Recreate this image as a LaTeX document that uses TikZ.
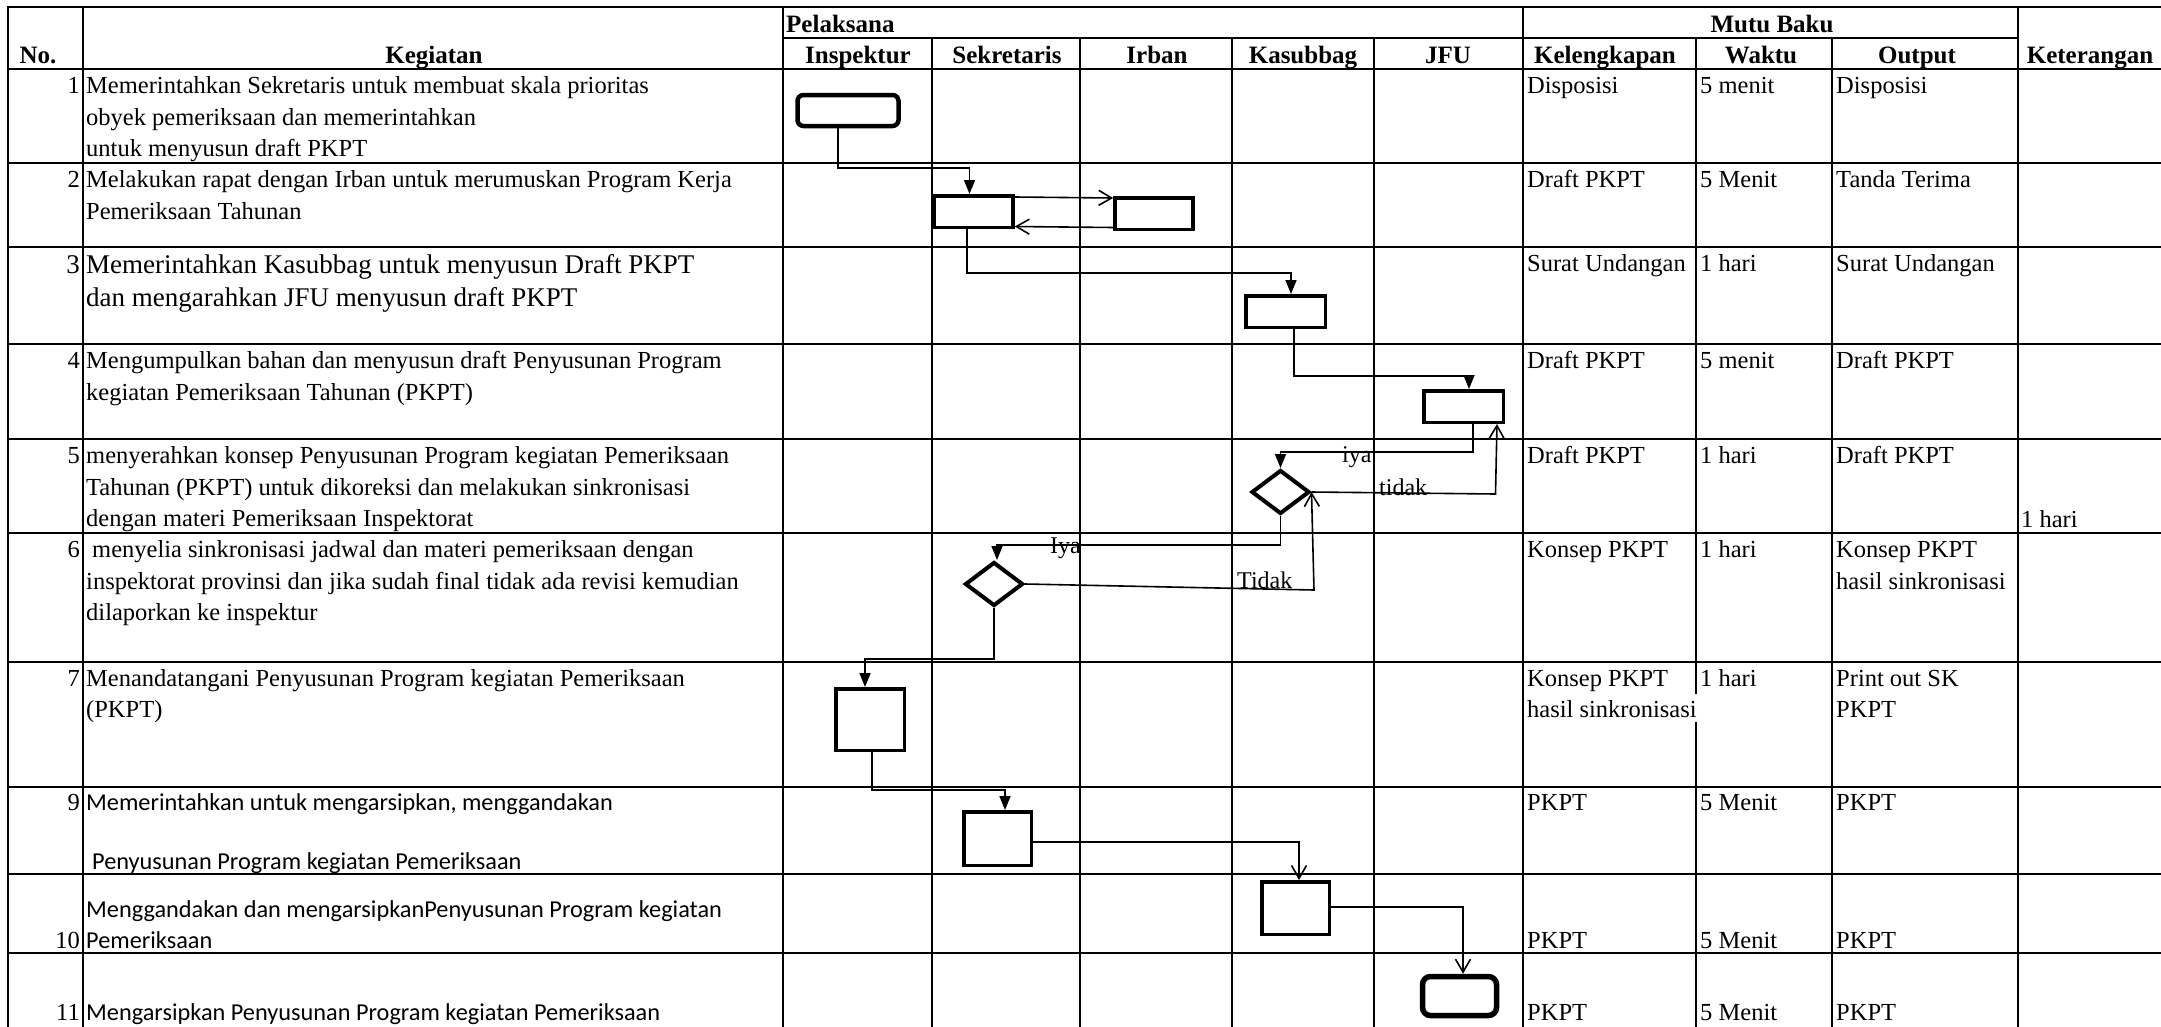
\documentclass[tikz,border=0pt]{standalone}
\usepackage{fontspec}
\setmainfont{Liberation Serif}
\newfontfamily\calib{Carlito}
\usetikzlibrary{arrows.meta,shapes.geometric}
\begin{document}
\begin{tikzpicture}[x=1pt,y=-1pt,
  grid/.style={line width=2.5pt, line cap=rect},
  bx/.style={draw, line width=3.5pt, inner sep=0pt},
  dia/.style={draw, diamond, line width=4pt, inner sep=0pt, minimum width=58pt, minimum height=44pt},
  conn/.style={line width=1.6pt},
  farr/.style={conn, -{Triangle[length=14pt,width=11pt]}},
  oarr/.style={conn, -{Straight Barb[length=13pt,width=15pt]}},
  tx/.style={inner sep=0pt, anchor=north west, align=left, font=\fontsize{24.5}{31.5}\selectfont},
  big/.style={font=\fontsize{27}{33}\selectfont},
  ln/.style={inner sep=0pt, anchor=base west, font=\fontsize{24.5}{31.5}\selectfont},
  num/.style={inner sep=0pt, anchor=base east, font=\fontsize{24.5}{31.5}\selectfont},
  hd/.style={inner sep=0pt, anchor=base, font=\fontsize{25}{28}\selectfont\bfseries},
  cb/.style={tx, font=\calib\fontsize{24.3}{29.5}\selectfont},
  cbl/.style={ln, font=\calib\fontsize{24.3}{29.5}\selectfont},
  lb/.style={inner sep=0pt, anchor=base west, font=\fontsize{24}{28}\selectfont}]
\fill[white] (0,0) rectangle (2161,1026);
\useasboundingbox (0,0) rectangle (2161,1026);
% grid
\foreach \yy in {7,69,163,247,344,439,533,662,787,874,953} \draw[grid] (8,\yy) -- (2161,\yy);
\draw[grid] (783,38) -- (2018,38);
\foreach \xx in {8,83,783,1523,2018} \draw[grid] (\xx,7) -- (\xx,1026);
\foreach \xx in {932,1080,1232,1374,1832} \draw[grid] (\xx,38) -- (\xx,1026);
\draw[grid] (1696,38) -- (1696,693) (1696,723) -- (1696,1026);
% headers
\node[hd] (hno) at (38,63) {No.};
\node[hd] (hkeg) at (434,63) {Kegiatan};
\node[hd,anchor=base west] (hpel) at (786,32) {Pelaksana};
\node[hd] (hmutu) at (1772,32) {Mutu Baku};
\node[hd] (hins) at (858,63) {Inspektur};
\node[hd] (hsek) at (1007,63) {Sekretaris};
\node[hd] (hirb) at (1157,63) {Irban};
\node[hd] (hkas) at (1303,63) {Kasubbag};
\node[hd] (hjfu) at (1448,63) {JFU};
\node[hd] (hkel) at (1605,63) {Kelengkapan};
\node[hd] (hwak) at (1761,63) {Waktu};
\node[hd] (hout) at (1917,63) {Output};
\node[hd] (hket) at (2090,63) {Keterangan};
% numbers
\node[num] (no1) at (80,93.5) {1};
\node[num] (no2) at (80,187.5) {2};
\node[num,big] (no3) at (80,273) {3};
\node[num] (no4) at (80,368.5) {4};
\node[num] (no5) at (80,463.5) {5};
\node[num] (no6) at (80,557.5) {6};
\node[num] (no7) at (80,686) {7};
\node[num] (no9) at (80,810.5) {9};
\node[num] (no10) at (80,948) {10};
\node[num] (no11) at (80,1020) {11};
% kegiatan
\node[tx] (k1) at (86,71.5) {\strut Memerintahkan Sekretaris untuk membuat skala prioritas\\obyek pemeriksaan dan memerintahkan\\untuk menyusun draft PKPT};
\node[tx] (k2) at (86,165.5) {\strut Melakukan rapat dengan Irban untuk merumuskan Program Kerja\\Pemeriksaan Tahunan};
\node[tx,big] (k3) at (86,249.9) {\strut Memerintahkan Kasubbag untuk menyusun Draft PKPT\\dan mengarahkan JFU menyusun draft PKPT};
\node[tx] (k4) at (86,346.5) {\strut Mengumpulkan bahan dan menyusun draft Penyusunan Program\\kegiatan Pemeriksaan Tahunan (PKPT)};
\node[tx] (k5) at (86,441.5) {\strut menyerahkan konsep Penyusunan Program kegiatan Pemeriksaan\\Tahunan (PKPT) untuk dikoreksi dan melakukan sinkronisasi\\dengan materi Pemeriksaan Inspektorat};
\node[tx] (k6) at (86,535.5) {\strut\hspace{6pt}menyelia sinkronisasi jadwal dan materi pemeriksaan dengan\\inspektorat provinsi dan jika sudah final tidak ada revisi kemudian\\dilaporkan ke inspektur};
\node[tx] (k7) at (86,664) {\strut Menandatangani Penyusunan Program kegiatan Pemeriksaan\\(PKPT)};
\node[cb] (k9) at (86,789.9) {\strut Memerintahkan untuk mengarsipkan, menggandakan\\\strut\\\hspace{6pt}Penyusunan Program kegiatan Pemeriksaan};
\node[cb,font=\calib\fontsize{24.3}{31}\selectfont] (k10) at (86,895.3) {\strut Menggandakan dan mengarsipkanPenyusunan Program kegiatan\\Pemeriksaan};
\node[cbl] (k11) at (86,1020) {Mengarsipkan Penyusunan Program kegiatan Pemeriksaan};
% mutu baku
\node[tx] (a1) at (1527,71.5) {\strut Disposisi};
\node[tx] (b1) at (1700,71.5) {\strut 5 menit};
\node[tx] (c1) at (1836,71.5) {\strut Disposisi};
\node[tx] (a2) at (1527,165.5) {\strut Draft PKPT};
\node[tx] (b2) at (1700,165.5) {\strut 5 Menit};
\node[tx] (c2) at (1836,165.5) {\strut Tanda Terima};
\node[tx] (a3) at (1527,249.5) {\strut Surat Undangan};
\node[tx] (b3) at (1700,249.5) {\strut 1 hari};
\node[tx] (c3) at (1836,249.5) {\strut Surat Undangan};
\node[tx] (a4) at (1527,346.5) {\strut Draft PKPT};
\node[tx] (b4) at (1700,346.5) {\strut 5 menit};
\node[tx] (c4) at (1836,346.5) {\strut Draft PKPT};
\node[tx] (a5) at (1527,441.5) {\strut Draft PKPT};
\node[tx] (b5) at (1700,441.5) {\strut 1 hari};
\node[tx] (c5) at (1836,441.5) {\strut Draft PKPT};
\node[ln] (d5t) at (2021,527) {1 hari};
\node[tx] (a6) at (1527,535.5) {\strut Konsep PKPT};
\node[tx] (b6) at (1700,535.5) {\strut 1 hari};
\node[tx] (c6) at (1836,535.5) {\strut Konsep PKPT\\hasil sinkronisasi};
\node[tx] (a7) at (1527,664) {\strut Konsep PKPT\\hasil sinkronisasi};
\node[tx] (b7) at (1700,664) {\strut 1 hari};
\node[tx] (c7) at (1836,664) {\strut Print out SK\\PKPT};
\node[tx] (a9) at (1527,788.5) {\strut PKPT};
\node[tx] (b9) at (1700,788.5) {\strut 5 Menit};
\node[tx] (c9) at (1836,788.5) {\strut PKPT};
\node[ln] (a10) at (1527,948) {PKPT};
\node[ln] (b10) at (1700,948) {5 Menit};
\node[ln] (c10) at (1836,948) {PKPT};
\node[ln] (a11) at (1527,1020) {PKPT};
\node[ln] (b11) at (1700,1020) {5 Menit};
\node[ln] (c11) at (1836,1020) {PKPT};
% flow shapes
\node[bx, line width=4.5pt, rounded corners=6pt, minimum width=101pt, minimum height=31pt] (n1) at (848,110.5) {};
\node[bx, minimum width=79pt, minimum height=31.5pt] (n2) at (973.5,211.5) {};
\node[bx, minimum width=78pt, minimum height=31.5pt] (n2b) at (1154,213.5) {};
\node[bx, minimum width=79.5pt, minimum height=31.5pt] (n3) at (1285.5,311.5) {};
\node[bx, minimum width=79.5pt, minimum height=31.5pt] (n4) at (1463.5,406.5) {};
\node[dia] (d5) at (1280.5,492) {};
\node[dia] (d6) at (994,584) {};
\node[bx, minimum width=68.5pt, minimum height=61.5pt] (n7) at (870,719.5) {};
\node[bx, minimum width=67.5pt, minimum height=53.5pt] (n9) at (997.5,838.5) {};
\node[bx, minimum width=67.5pt, minimum height=52.5pt] (n10) at (1295.5,908) {};
\node[bx, line width=5.5pt, rounded corners=8pt, minimum width=74pt, minimum height=39pt] (n11) at (1459.5,996) {};
% connectors
\draw[farr] ([xshift=-10pt]n1.south) -- ++(0,40) -| ([xshift=-4pt]n2.north);
\draw[oarr] ([yshift=14.5pt]n2.east) -- ([yshift=15.5pt]n2b.west);
\draw[oarr] ([yshift=-14pt]n2b.west) -- ([yshift=-15pt]n2.east);
\draw[farr] ([xshift=-6.5pt]n2.south) -- ++(0,44) -| ([xshift=5.5pt]n3.north);
\draw[farr] ([xshift=8.5pt]n3.south) -- ++(0,47) -| ([xshift=5.5pt]n4.north);
\draw[farr] ([xshift=9.5pt]n4.south) -- ++(0,28) -| (d5.north);
\node[lb] (liya) at (1342,462) {iya};
\draw[oarr] (d5.east) -- ++(184,2) -- ([xshift=33.5pt]n4.south);
\node[lb] (ltidak) at (1379,495) {tidak};
\draw[farr] (d5.south) -- ++(0,29) -| ([xshift=3pt]d6.north);
\node[lb] (lIya) at (1050,553) {Iya};
\draw[oarr] (d6.east) -- ++(289,6) -- (d5.east);
\node[lb] (lTidak) at (1237,588) {Tidak};
\draw[farr] (d6.south) -- ++(0,51) -| ([xshift=-5pt]n7.north);
\draw[farr] ([xshift=2pt]n7.south) -- ++(0,38) -| ([xshift=7.5pt]n9.north);
\draw[oarr] ([yshift=-3.5pt]n9.east) -| ([xshift=3.5pt]n10.north);
\draw[oarr] ([xshift=-2pt,yshift=1pt]n10.east) -| ([xshift=3.5pt]n11.north);
\end{tikzpicture}
\end{document}
